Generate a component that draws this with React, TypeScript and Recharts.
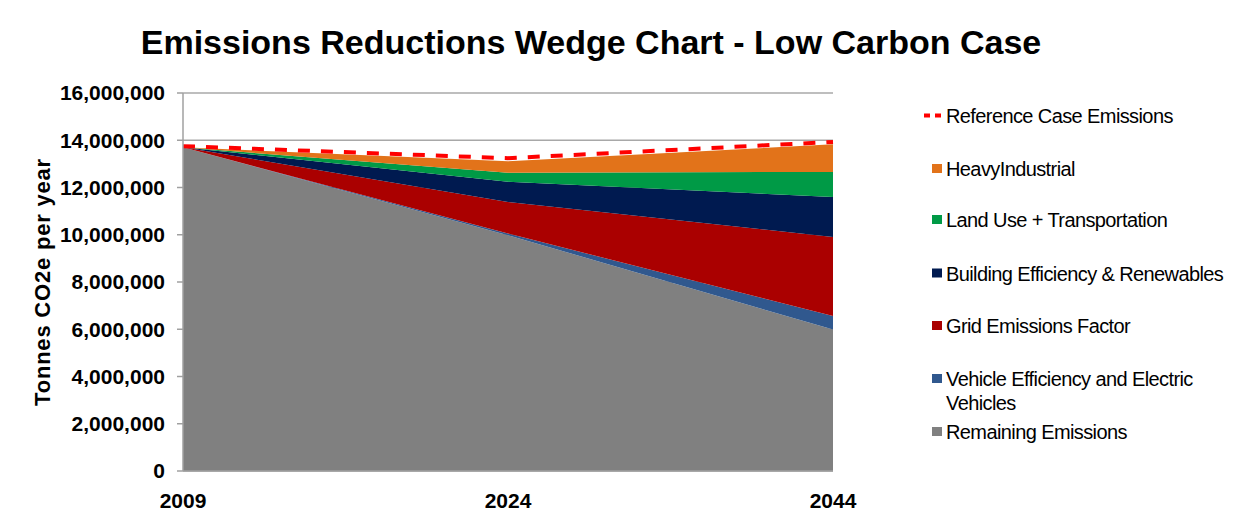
import {
  ComposedChart,
  Area,
  Line,
  XAxis,
  YAxis,
  CartesianGrid,
} from 'recharts'

const years = ['2009', '2024', '2044']
const remaining = [13700000, 9980000, 5990000]
const vehicle = [0, 70000, 570000]
const gridFactor = [0, 1340000, 3350000]
const building = [0, 850000, 1690000]
const landUse = [0, 380000, 1060000]
const heavy = [0, 490000, 1170000]
const reference = [13750000, 13240000, 13930000]
const yTicks = [0, 2000000, 4000000, 6000000, 8000000, 10000000, 12000000, 14000000, 16000000]

const data = years.map((year, i) => ({
  year,
  remaining: remaining[i],
  vehicle: vehicle[i],
  gridFactor: gridFactor[i],
  building: building[i],
  landUse: landUse[i],
  heavy: heavy[i],
  reference: reference[i],
}))

const font = '"Liberation Sans", Arial, sans-serif'

// stacked bottom -> top
const wedges = [
  { key: 'remaining', name: 'Remaining Emissions', color: '#808080' },
  { key: 'vehicle', name: 'Vehicle Efficiency and Electric Vehicles', color: '#30588e' },
  { key: 'gridFactor', name: 'Grid Emissions Factor', color: '#aa0000' },
  { key: 'building', name: 'Building Efficiency & Renewables', color: '#001a50' },
  { key: 'landUse', name: 'Land Use + Transportation', color: '#009a46' },
  { key: 'heavy', name: 'Heavy Industrial', color: '#e2731a' },
]

// legend rows, top -> bottom (baseline y in chart coords)
const legendRows = [
  { lines: ['Reference Case Emissions'], color: '#ff0000', dashed: true, y: 115 },
  { lines: ['HeavyIndustrial'], color: '#e2731a', y: 168 },
  { lines: ['Land Use + Transportation'], color: '#009a46', y: 219 },
  { lines: ['Building Efficiency & Renewables'], color: '#001a50', y: 272.5 },
  { lines: ['Grid Emissions Factor'], color: '#aa0000', y: 325 },
  { lines: ['Vehicle Efficiency and Electric', 'Vehicles'], color: '#30588e', y: 378 },
  { lines: ['Remaining Emissions'], color: '#808080', y: 431 },
]

export default function App() {
  return (
    <div style={{ position: 'relative', width: 1234, height: 507, fontFamily: font }}>
      <div
        style={{
          position: 'absolute',
          left: -2,
          top: -3,
          width: 1236,
          height: 500,
          borderTop: '2px solid #a0a0a0',
          borderLeft: '2px solid #a0a0a0',
          boxSizing: 'border-box',
        }}
      />
      <ComposedChart
        width={1234}
        height={507}
        data={data}
        margin={{ top: 85, right: 409, left: 0, bottom: 0 }}
        style={{ fontFamily: font }}
      >
        <CartesianGrid vertical={false} stroke="#a8a8a8" strokeWidth={1.5} />
        <XAxis
          dataKey="year"
          scale="point"
          height={44}
          tickLine={false}
          axisLine={{ stroke: '#a0a0a0', strokeWidth: 1.5 }}
          tickMargin={16}
          tick={{ fill: '#000', fontSize: 21, fontWeight: 'bold' }}
        />
        <YAxis
          width={175}
          domain={[0, 16000000]}
          ticks={yTicks}
          interval={0}
          tickSize={6}
          tickMargin={12}
          axisLine={{ stroke: '#a0a0a0', strokeWidth: 1.5 }}
          tickLine={{ stroke: '#a0a0a0', strokeWidth: 1.5 }}
          tick={{ fill: '#000', fontSize: 21, fontWeight: 'bold' }}
          tickFormatter={(v: number) => v.toLocaleString('en-US')}
          label={{
            value: 'Tonnes CO2e per year',
            angle: -90,
            position: 'insideLeft',
            offset: 34,
            style: { textAnchor: 'middle', fontSize: 22, fontWeight: 'bold', fill: '#000', letterSpacing: 0.8 },
          }}
        />
        {wedges.map((w) => (
          <Area
            key={w.key}
            type="linear"
            dataKey={w.key}
            name={w.name}
            stackId="wedge"
            stroke="none"
            fill={w.color}
            fillOpacity={1}
            isAnimationActive={false}
          />
        ))}
        <Line
          type="linear"
          dataKey="reference"
          name="Reference Case Emissions"
          stroke="#ff0000"
          strokeWidth={4}
          strokeDasharray="12 11"
          dot={false}
          activeDot={false}
          isAnimationActive={false}
        />
      </ComposedChart>
      <svg
        width={1234}
        height={507}
        style={{ position: 'absolute', left: 0, top: 0, pointerEvents: 'none', fontFamily: font }}
      >
        <text x={583} y={46} textAnchor="middle" fontSize={34} fontWeight="bold" fill="#000">
          Emissions Reductions Wedge Chart - Low Carbon Case
        </text>
        {legendRows.map((row) => (
          <g key={row.lines[0]}>
            {row.dashed ? (
              <>
                <rect x={916} y={row.y - 9.5} width={6} height={4} fill={row.color} />
                <rect x={927} y={row.y - 9.5} width={6} height={4} fill={row.color} />
              </>
            ) : (
              <rect x={924} y={row.y - 12} width={10} height={9} fill={row.color} />
            )}
            {row.lines.map((line, j) => (
              <text
                key={line}
                x={938}
                y={row.y + j * 24}
                fontSize={20}
                fill="#000"
                style={{ letterSpacing: -0.6 }}
              >
                {line}
              </text>
            ))}
          </g>
        ))}
      </svg>
    </div>
  )
}
